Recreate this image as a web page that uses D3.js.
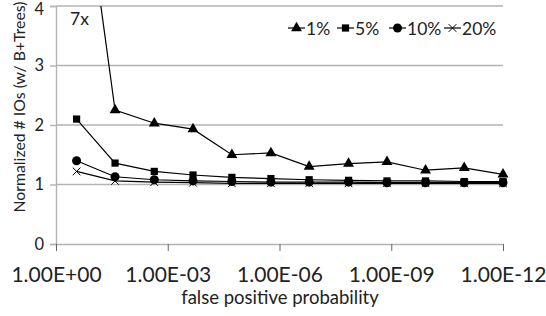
<!DOCTYPE html>
<html><head><meta charset="utf-8">
<script src="https://cdn.jsdelivr.net/npm/d3@7"></script>
<style>
html,body{margin:0;padding:0;background:#fff;}
svg{display:block;font-family:Lato, "Open Sans", sans-serif;}
</style></head>
<body>
<svg id="chart" width="546" height="316"></svg>
<script>
const fpr = [2.8e-1, 2.6e-2, 2.3e-3, 2.1e-4, 1.9e-5, 1.7e-6, 1.6e-7, 1.4e-8, 1.3e-9, 1.2e-10, 1.1e-11, 1.0e-12];
const s1  = [7.0, 2.25, 2.03, 1.93, 1.50, 1.53, 1.30, 1.35, 1.38, 1.24, 1.28, 1.17];
const s5  = [2.10, 1.36, 1.22, 1.16, 1.12, 1.10, 1.08, 1.07, 1.06, 1.06, 1.05, 1.05];
const s10 = [1.40, 1.13, 1.08, 1.06, 1.05, 1.04, 1.04, 1.04, 1.03, 1.03, 1.03, 1.03];
const s20 = [1.22, 1.06, 1.04, 1.03, 1.02, 1.02, 1.02, 1.02, 1.02, 1.02, 1.02, 1.02];
const seriesNames = ["1%", "5%", "10%", "20%"];
const seriesSymbols = ["triangle", "square", "circle", "cross"];
const xTicks = [1e0, 1e-3, 1e-6, 1e-9, 1e-12];
const xTickLabels = ["1.00E+00", "1.00E-03", "1.00E-06", "1.00E-09", "1.00E-12"];
const yTicks = [0, 1, 2, 3, 4];
const annotation = "7x";

const svg = d3.select("#chart");
const L = 56, R = 503, T = 6, B = 244;
const x = d3.scaleLog().domain([1, 1e-12]).range([L, R]);
const y = d3.scaleLinear().domain([0, 4]).range([B, T]);
const grid = "#b3b3b3";

// gridlines
svg.append("g").selectAll("line").data(yTicks.filter(d => d > 0)).join("line")
  .attr("x1", L).attr("x2", R).attr("y1", d => y(d)).attr("y2", d => y(d))
  .attr("stroke", grid).attr("stroke-width", 1.4);

// y axis
const yAxis = svg.append("g").attr("transform", `translate(${L},0)`)
  .call(d3.axisLeft(y).tickValues(yTicks).tickFormat(d3.format("d")).tickSize(6).tickPadding(6));
yAxis.select(".domain").attr("stroke", grid).attr("stroke-width", 1.4);
yAxis.selectAll(".tick line").attr("stroke", grid).attr("stroke-width", 1.4);
yAxis.selectAll("text").attr("font-size", 16.5).attr("fill", "#222").attr("font-family", "Lato")
  .attr("y", d => d === 4 ? 3.5 : 0);

// x axis
const xAxis = svg.append("g").attr("transform", `translate(0,${B})`)
  .call(d3.axisBottom(x).tickValues(xTicks).tickFormat((d, i) => xTickLabels[i]).tickSize(7).tickSizeOuter(0));
xAxis.select(".domain").attr("stroke", grid).attr("stroke-width", 1.4);
xAxis.selectAll(".tick line").attr("stroke", "#666").attr("stroke-width", 1);
xAxis.selectAll("text").attr("font-size", 21).attr("fill", "#222").attr("font-family", "Lato")
  .attr("dy", null).attr("y", 38);

// titles
svg.append("text").attr("x", 280).attr("y", 304).attr("text-anchor", "middle")
  .attr("font-size", 18.5).attr("fill", "#222").text("false positive probability");
svg.append("text").attr("transform", "translate(25,107) rotate(-90)").attr("text-anchor", "middle")
  .attr("font-size", 15.8).attr("fill", "#222").text("Normalized # IOs (w/ B+Trees)");

// clip
svg.append("clipPath").attr("id", "clip").append("rect")
  .attr("x", L).attr("y", T).attr("width", R - L + 10).attr("height", B - T + 10);

const allSeries = [s1, s5, s10, s20];
const symMap = {triangle: d3.symbolTriangle, square: d3.symbolSquare, circle: d3.symbolCircle, cross: d3.symbolX};
const symSize = {triangle: 52, square: 52, circle: 64, cross: 40};
const line = d3.line().x(d => x(d[0])).y(d => y(d[1]));
const plot = svg.append("g").attr("clip-path", "url(#clip)");

function drawSym(g, type, cx, cy) {
  const p = g.append("path").attr("d", d3.symbol(symMap[type], symSize[type])())
    .attr("transform", `translate(${cx},${cy})`);
  if (type === "cross") p.attr("fill", "none").attr("stroke", "#000").attr("stroke-width", 1);
  else p.attr("fill", "#000");
}

[3, 2, 1, 0].forEach(k => {
  const vals = allSeries[k];
  const pts = fpr.map((f, i) => [f, vals[i]]);
  plot.append("path").datum(pts).attr("d", line).attr("fill", "none")
    .attr("stroke", "#000").attr("stroke-width", 1.2);
  const g = plot.append("g");
  pts.forEach(p => drawSym(g, seriesSymbols[k], x(p[0]), y(p[1])));
});

// annotation
svg.append("text").attr("x", 70).attr("y", 25).attr("font-size", 17.5).attr("fill", "#222").text(annotation);

// legend
const lg = svg.append("g");
const ly = 28;
const legLineX = [288, 337, 389, 444];
seriesNames.forEach((n, k) => {
  const lx = legLineX[k];
  lg.append("line").attr("x1", lx).attr("x2", lx + 17).attr("y1", ly).attr("y2", ly)
    .attr("stroke", "#000").attr("stroke-width", 1.2);
  drawSym(lg, seriesSymbols[k], lx + 8.5, ly);
  lg.append("text").attr("x", lx + 18).attr("y", ly + 6.5).attr("font-size", 17.5)
    .attr("fill", "#222").text(n);
});
</script>
</body></html>
